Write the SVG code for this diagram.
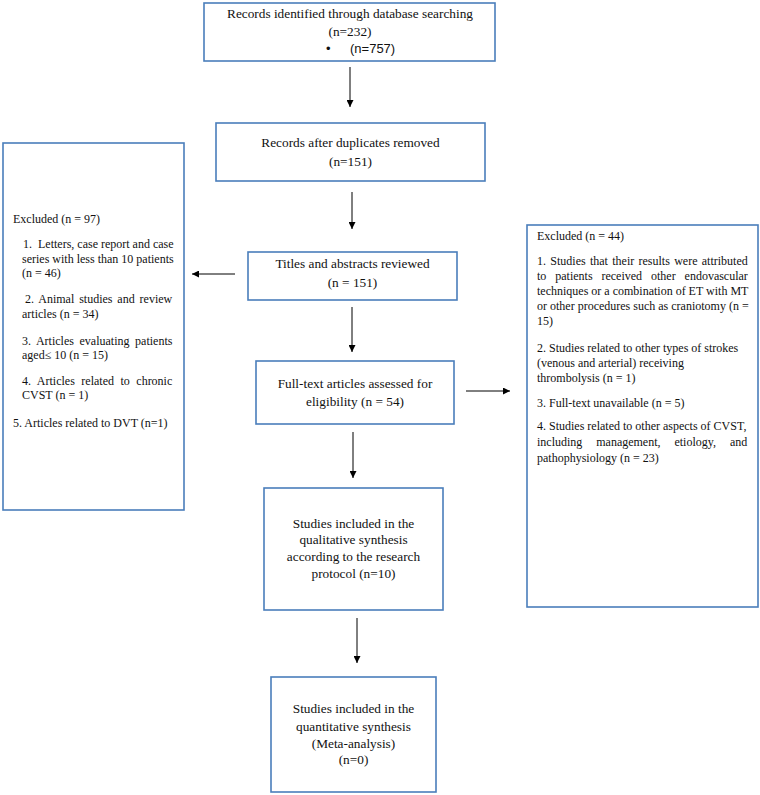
<svg xmlns="http://www.w3.org/2000/svg" width="760" height="795" viewBox="0 0 760 795">
<defs>
<marker id="ah" viewBox="0 0 10 10" refX="10" refY="5" markerWidth="7" markerHeight="7" markerUnits="userSpaceOnUse" orient="auto">
<path d="M0,0 L10,5 L0,10 z" fill="#000"/>
</marker>
<style>
.box{fill:#fff;stroke:#4a7ebb;stroke-width:1.6}
.t{font-family:"Liberation Serif","Times New Roman",serif;font-size:13.3px;fill:#111;text-anchor:middle}
.s{font-family:"Liberation Serif","Times New Roman",serif;font-size:12px;fill:#111}
.c{font-family:"Liberation Sans",Arial,sans-serif;font-size:13px;fill:#111}
.ln{stroke:#000;stroke-width:1;fill:none;marker-end:url(#ah)}
</style>
</defs>
<rect width="760" height="795" fill="#fff"/>
<g id="connectors">
<line class="ln" x1="350" y1="67" x2="350" y2="107"/>
<line class="ln" x1="352" y1="192" x2="352" y2="229"/>
<line class="ln" x1="235" y1="274" x2="192" y2="274"/>
<line class="ln" x1="352" y1="307" x2="352" y2="352"/>
<line class="ln" x1="466" y1="391" x2="510" y2="391"/>
<line class="ln" x1="353" y1="432" x2="353" y2="478"/>
<line class="ln" x1="357" y1="618" x2="357" y2="663"/>
</g>
<g id="identified">
<rect class="box" x="204" y="3" width="291" height="58"/>
<text class="t" x="350" y="18">Records identified through database searching</text>
<text class="t" x="350" y="36">(n=232)</text>
<text class="c" x="326" y="53">•</text>
<text class="c" x="350" y="53">(n=757)</text>
</g>
<g id="duplicates">
<rect class="box" x="216" y="123" width="269" height="58"/>
<text class="t" x="350.5" y="147">Records after duplicates removed</text>
<text class="t" x="350.5" y="166">(n=151)</text>
</g>
<g id="titles">
<rect class="box" x="248" y="252" width="209" height="48"/>
<text class="t" x="352.5" y="268">Titles and abstracts reviewed</text>
<text class="t" x="352.5" y="287">(n = 151)</text>
</g>
<g id="excluded-left">
<rect class="box" x="3" y="143" width="181" height="367"/>
<text class="s" x="13" y="223">Excluded (n = 97)</text>
<text class="s" x="23" y="248" xml:space="preserve">1.  Letters, case report and case</text>
<text class="s" x="22" y="263">series with less than 10 patients</text>
<text class="s" x="22" y="277">(n = 46)</text>
<text class="s" x="25" y="303" word-spacing="1.9">2. Animal studies and review</text>
<text class="s" x="22" y="318">articles (n = 34)</text>
<text class="s" x="22" y="345" word-spacing="2.6">3. Articles evaluating patients</text>
<text class="s" x="22" y="359">aged≤ 10 (n = 15)</text>
<text class="s" x="22" y="385" word-spacing="3.5">4. Articles related to chronic</text>
<text class="s" x="22" y="399">CVST (n = 1)</text>
<text class="s" x="13" y="427">5. Articles related to DVT (n=1)</text>
</g>
<g id="fulltext">
<rect class="box" x="256" y="361" width="198" height="63"/>
<text class="t" x="355" y="388">Full-text articles assessed for</text>
<text class="t" x="355" y="406">eligibility (n = 54)</text>
</g>
<g id="excluded-right">
<rect class="box" x="527" y="225" width="231" height="382"/>
<text class="s" x="537" y="240">Excluded (n = 44)</text>
<text class="s" x="537" y="265" word-spacing="1.3">1. Studies that their results were attributed</text>
<text class="s" x="537" y="280" word-spacing="5.9">to patients received other endovascular</text>
<text class="s" x="537" y="295">techniques or a combination of ET with MT</text>
<text class="s" x="537" y="310">or other procedures such as craniotomy (n =</text>
<text class="s" x="537" y="325">15)</text>
<text class="s" x="537" y="352">2. Studies related to other types of strokes</text>
<text class="s" x="537" y="367">(venous and arterial) receiving</text>
<text class="s" x="537" y="382">thrombolysis (n = 1)</text>
<text class="s" x="537" y="407">3. Full-text unavailable (n = 5)</text>
<text class="s" x="537" y="430">4. Studies related to other aspects of CVST,</text>
<text class="s" x="537" y="446" word-spacing="10.9">including management, etiology, and</text>
<text class="s" x="537" y="462">pathophysiology (n = 23)</text>
</g>
<g id="qualitative">
<rect class="box" x="264" y="488" width="179" height="122"/>
<text class="t" x="353.5" y="528">Studies included in the</text>
<text class="t" x="353.5" y="544">qualitative synthesis</text>
<text class="t" x="353.5" y="561">according to the research</text>
<text class="t" x="353.5" y="578">protocol (n=10)</text>
</g>
<g id="quantitative">
<rect class="box" x="271" y="677" width="165" height="115"/>
<text class="t" x="353.5" y="713">Studies included in the</text>
<text class="t" x="353.5" y="731">quantitative synthesis</text>
<text class="t" x="353.5" y="748">(Meta-analysis)</text>
<text class="t" x="353.5" y="764">(n=0)</text>
</g>
</svg>
